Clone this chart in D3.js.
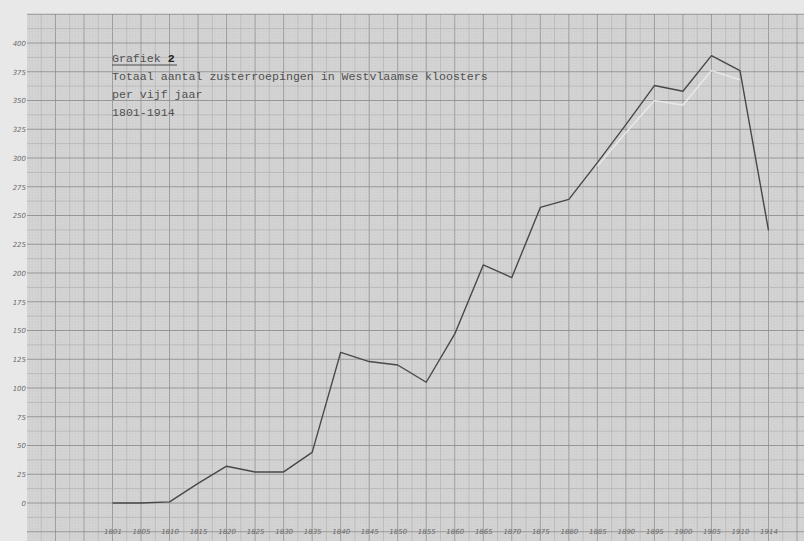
<!DOCTYPE html>
<html><head><meta charset="utf-8">
<script src="https://cdn.jsdelivr.net/npm/d3@7"></script>
<style>
html,body{margin:0;padding:0;background:#e4e4e4;}
svg{display:block;}
</style></head>
<body>
<svg id="chart" width="804" height="541"></svg>
<script>
const years = [1801,1805,1810,1815,1820,1825,1830,1835,1840,1845,1850,1855,1860,1865,1870,1875,1880,1885,1890,1895,1900,1905,1910,1914];
const yearLabels = ["1801","1805","1810","1815","1820","1825","1830","1835","1840","1845","1850","1855","1860","1865","1870","1875","1880","1885","1890","1895","1900","1905","1910","1914"];
const values = [0,0,1,17,32,27,27,44,131,123,120,105,147,207,196,257,264,296,329,363,358,389,376,237];
const faintYears = [1885,1890,1895,1900,1905,1910];
const faintValues = [293,322,350,346,376,368];
const yTicks = [0,25,50,75,100,125,150,175,200,225,250,275,300,325,350,375,400];
const titleLines = ["Grafiek 2","Totaal aantal zusterroepingen in Westvlaamse kloosters","per vijf jaar","1801-1914"];

const svg = d3.select("#chart");
const W = 804, H = 541;
const paperLeft = 27, paperTop = 14;

const x = d3.scaleLinear().domain([0, years.length - 1]).range([112.5, 768.5]);
const y = d3.scaleLinear().domain([0, 400]).range([503, 43]);
const xi = yr => years.indexOf(yr);

svg.append("rect").attr("x",0).attr("y",0).attr("width",W).attr("height",H).attr("fill","#e8e8e8");
svg.append("rect").attr("x",paperLeft).attr("y",paperTop).attr("width",W-paperLeft).attr("height",H-paperTop).attr("fill","#d5d5d5");

const grid = svg.append("g");
const step = x(1) - x(0);
const vStep = y(0) - y(25);
const styleFor = k => (k % 10 === 0) ? ["#969696",1] : (k % 5 === 0) ? ["#b2b2b2",0.8] : ["#cbcbcb",0.4];
const kMin = Math.ceil((paperLeft - x(0)) / step * 10);
const kMax = Math.floor((W - x(0)) / step * 10);
for (let k = kMin; k <= kMax; k++) {
  const px = x(k / 10); const [col, sw] = styleFor(k);
  grid.append("line").attr("x1",px).attr("x2",px).attr("y1",paperTop).attr("y2",H)
    .attr("stroke",col).attr("stroke-width",sw);
}
const jMin = Math.ceil((y(0) - H) / vStep * 10);
const jMax = Math.floor((y(0) - paperTop) / vStep * 10);
for (let j = jMin; j <= jMax; j++) {
  const py = y(j * 2.5); const [col, sw] = styleFor(j);
  grid.append("line").attr("x1",paperLeft).attr("x2",W).attr("y1",py).attr("y2",py)
    .attr("stroke",col).attr("stroke-width",sw);
}

const yAxis = d3.axisLeft(y).tickValues(yTicks).tickSize(0).tickPadding(1).tickFormat(d3.format("d"));
const ya = svg.append("g").attr("transform",`translate(${paperLeft},0)`).call(yAxis);
ya.select(".domain").remove();
ya.selectAll("text").attr("font-family","DejaVu Sans, sans-serif").attr("font-size",7)
  .attr("fill","#6a6a6a").attr("font-style","italic");

const xAxis = d3.axisBottom(x).tickValues(d3.range(years.length)).tickSize(0).tickPadding(0)
  .tickFormat(i => yearLabels[i]);
const xa = svg.append("g").attr("transform",`translate(0,529)`).call(xAxis);
xa.select(".domain").remove();
xa.selectAll("text").attr("font-family","DejaVu Sans, sans-serif").attr("font-size",7)
  .attr("fill","#6a6a6a").attr("font-style","italic");

const faintLine = d3.line().x((d,i) => x(xi(faintYears[i]))).y(d => y(d));
svg.append("path").datum(faintValues).attr("d",faintLine).attr("fill","none")
  .attr("stroke","#eeeeee").attr("stroke-width",1.5).attr("opacity",0.8);

const line = d3.line().x((d,i) => x(i)).y(d => y(d));
svg.append("path").datum(values).attr("d",line).attr("fill","none")
  .attr("stroke","#484848").attr("stroke-width",1.4).attr("stroke-linejoin","round");

const tg = svg.append("g").attr("font-family","Liberation Mono, DejaVu Sans Mono, monospace")
  .attr("font-size",11.6).attr("fill","#505050");
const baseY = [62, 80, 98, 116];
titleLines.forEach((t,i) => {
  const tx = tg.append("text").attr("x",112).attr("y",baseY[i]);
  if (i === 0) {
    tx.append("tspan").text("Grafiek ");
    tx.append("tspan").attr("font-weight","bold").attr("fill","#222").text("2");
  } else tx.text(t);
});
svg.append("line").attr("x1",112).attr("x2",177).attr("y1",65).attr("y2",65)
  .attr("stroke","#4a4a4a").attr("stroke-width",1);
</script>
</body></html>
